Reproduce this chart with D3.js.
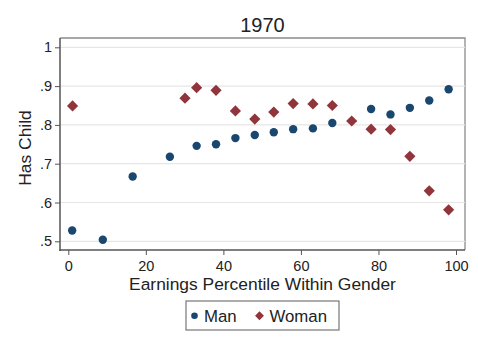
<!DOCTYPE html>
<html><head><meta charset="utf-8">
<script src="https://cdn.jsdelivr.net/npm/d3@7"></script>
<style>body{margin:0;background:#fff}svg{display:block}text{font-family:"Liberation Sans",Arial,sans-serif;fill:#222}</style>
</head><body>
<script>
const title = "1970";
const manX = [1.0, 8.9, 16.6, 26.2, 33.1, 38.1, 43.1, 48.1, 53.0, 58.0, 63.1, 68.1, 78.1, 83.1, 88.1, 93.1, 98.1];
const manY = [0.528, 0.504, 0.667, 0.718, 0.746, 0.750, 0.766, 0.774, 0.781, 0.789, 0.791, 0.805, 0.841, 0.827, 0.844, 0.863, 0.892];
const womanX = [1.1, 30.1, 33.1, 38.1, 43.1, 48.1, 53.0, 58.0, 63.1, 68.1, 73.1, 78.1, 83.1, 88.1, 93.1, 98.1];
const womanY = [0.849, 0.869, 0.896, 0.889, 0.836, 0.815, 0.833, 0.855, 0.854, 0.850, 0.810, 0.789, 0.788, 0.719, 0.630, 0.581];
const xTicks = [0, 20, 40, 60, 80, 100];
const yTicks = [0.5, 0.6, 0.7, 0.8, 0.9, 1.0];
const yTickLabels = [".5", ".6", ".7", ".8", ".9", "1"];
const seriesNames = ["Man", "Woman"];
const colors = ["#1a476f", "#90353b"];

const W = 478, H = 348;
const L = 60, R = 465, T = 38, B = 250;
const svg = d3.select("body").append("svg").attr("width", W).attr("height", H);

const x = d3.scaleLinear().domain([0, 100]).range([68.3, 456]);
const y = d3.scaleLinear().domain([0.5, 1.0]).range([241.3, 47.3]);

// frame top/right
svg.append("path").attr("d", `M${L},${T}H${R}V${B}`).attr("fill","none").attr("stroke","#8c8c8c").attr("stroke-width",1.3);

// gridlines
svg.append("g").selectAll("line").data(yTicks).join("line")
  .attr("x1", L).attr("x2", R).attr("y1", d=>y(d)).attr("y2", d=>y(d))
  .attr("stroke", "#e6e6e6").attr("stroke-width", 1.2);

// y axis
const yAxis = d3.axisLeft(y).tickValues(yTicks).tickFormat((d,i)=>yTickLabels[i]).tickSize(5).tickPadding(3);
const gy = svg.append("g").attr("transform", `translate(${L},0)`).call(yAxis);
gy.select(".domain").remove();
gy.append("line").attr("x1",0).attr("x2",0).attr("y1",T).attr("y2",B+1).attr("stroke","#555").attr("stroke-width",1.5);
gy.selectAll(".tick line").attr("stroke","#555");
gy.selectAll(".tick text").attr("font-size", 14.5).attr("fill","#222").attr("font-family",'"Liberation Sans",Arial,sans-serif');

// x axis
const xAxis = d3.axisBottom(x).tickValues(xTicks).tickSize(5).tickPadding(6);
const gx = svg.append("g").attr("transform", `translate(0,${B})`).call(xAxis);
gx.select(".domain").remove();
gx.append("line").attr("x1",L-0.7).attr("x2",R).attr("y1",0).attr("y2",0).attr("stroke","#555").attr("stroke-width",1.5);
gx.selectAll(".tick line").attr("stroke","#555");
gx.selectAll(".tick text").attr("font-size", 14.5).attr("fill","#222").attr("font-family",'"Liberation Sans",Arial,sans-serif');

// points
const man = manX.map((d,i)=>({x:d,y:manY[i]}));
const woman = womanX.map((d,i)=>({x:d,y:womanY[i]}));
svg.append("g").selectAll("path").data(woman).join("path")
  .attr("d", d3.symbol(d3.symbolDiamond2, 80))
  .attr("transform", d=>`translate(${x(d.x)},${y(d.y)})`)
  .attr("fill", colors[1]);
svg.append("g").selectAll("circle").data(man).join("circle")
  .attr("cx", d=>x(d.x)).attr("cy", d=>y(d.y)).attr("r", 4.2)
  .attr("fill", colors[0]);

// titles
svg.append("text").attr("x", (L+R)/2).attr("y", 32).attr("text-anchor","middle").attr("font-size", 20).text(title);
svg.append("text").attr("x", (L+R)/2).attr("y", 290).attr("text-anchor","middle").attr("font-size", 17.4).text("Earnings Percentile Within Gender");
svg.append("text").attr("transform", `translate(31,${(T+B)/2+4}) rotate(-90)`).attr("text-anchor","middle").attr("font-size", 17.4).text("Has Child");

// legend
const lg = svg.append("g");
lg.append("rect").attr("x",186).attr("y",301).attr("width",153).attr("height",29).attr("fill","#fff").attr("stroke","#777").attr("stroke-width",1.2);
lg.append("circle").attr("cx",194.5).attr("cy",315.7).attr("r",3.3).attr("fill",colors[0]);
lg.append("text").attr("x",204).attr("y",321.5).attr("font-size",16.8).text(seriesNames[0]);
lg.append("path").attr("d", d3.symbol(d3.symbolDiamond2, 50)).attr("transform","translate(259.5,315.7)").attr("fill",colors[1]);
lg.append("text").attr("x",269.5).attr("y",321.5).attr("font-size",16.8).text(seriesNames[1]);
</script>
</body></html>
